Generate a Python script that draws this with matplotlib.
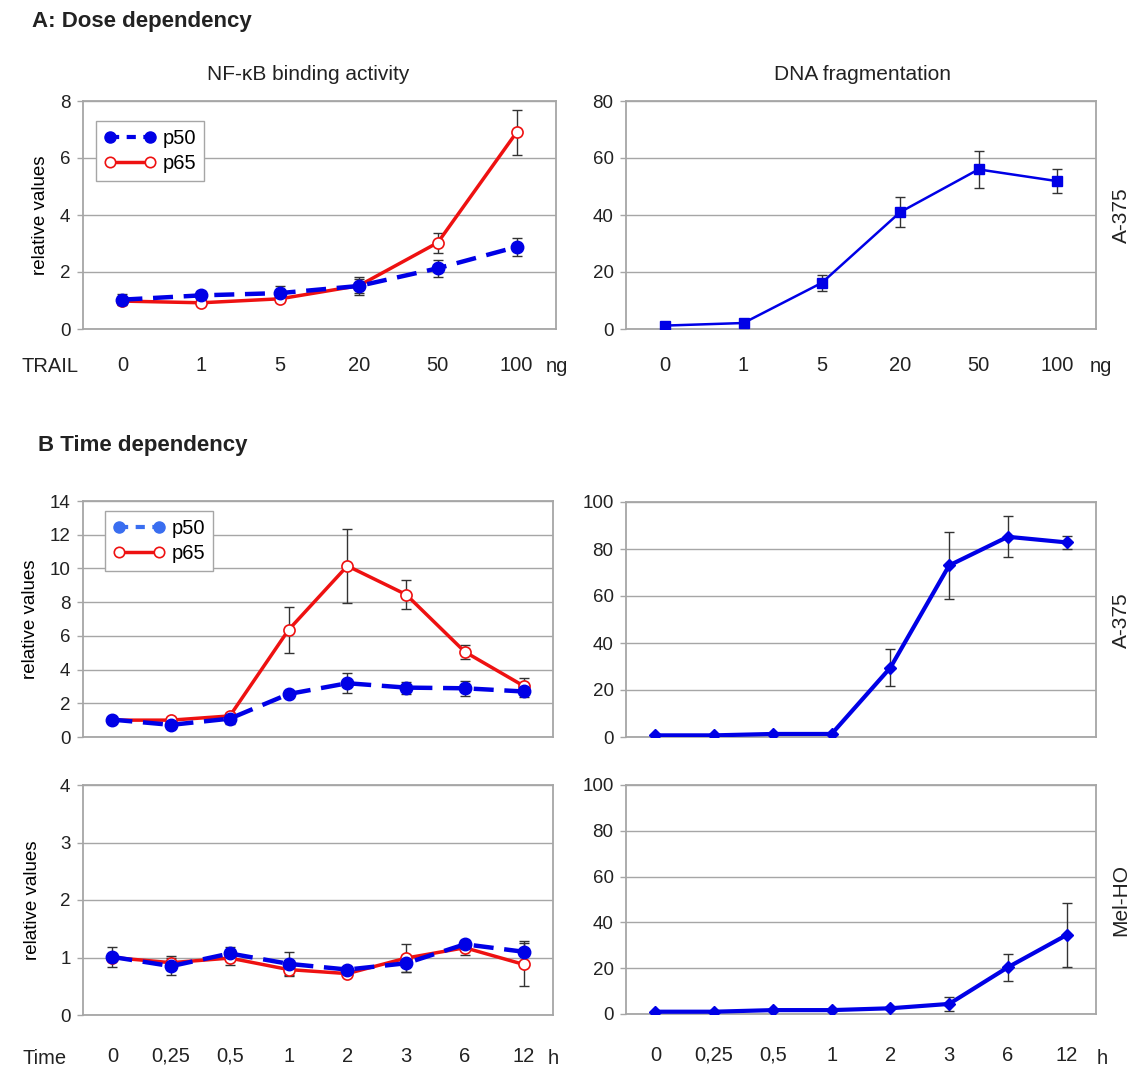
import matplotlib
matplotlib.use('Agg')
import matplotlib.pyplot as plt
from matplotlib.lines import Line2D
import numpy as np

plt.rcParams['font.family'] = ['Liberation Sans', 'DejaVu Sans']

W, H = 1139, 1071

dose_labels = ['0', '1', '5', '20', '50', '100']
time_labels = ['0', '0,25', '0,5', '1', '2', '3', '6', '12']

# A: dose dependency (A-375)
dose_p50 = [1.03, 1.18, 1.26, 1.51, 2.13, 2.88]
dose_p50_err = [0.2, 0.15, 0.25, 0.3, 0.3, 0.32]
dose_p65 = [0.98, 0.92, 1.06, 1.52, 3.03, 6.9]
dose_p65_err = [0.1, 0.05, 0.1, 0.25, 0.35, 0.78]
dose_dna = [1.2, 2.1, 16.2, 41.0, 56.0, 51.9]
dose_dna_err = [0, 0, 2.7, 5.2, 6.6, 4.1]

# B: time dependency, A-375
a375_p50 = [1.03, 0.72, 1.09, 2.55, 3.19, 2.93, 2.89, 2.7]
a375_p50_err = [0.1, 0.1, 0.3, 0.15, 0.6, 0.35, 0.45, 0.35]
a375_p65 = [1.0, 1.0, 1.25, 6.36, 10.15, 8.45, 5.05, 3.03]
a375_p65_err = [0, 0, 0.15, 1.35, 2.2, 0.85, 0.4, 0.45]
a375_dna = [0.7, 0.7, 1.3, 1.3, 29.5, 73.0, 85.2, 82.8]
a375_dna_err = [0, 0, 0, 0, 8.0, 14.2, 8.7, 2.8]

# B: time dependency, Mel-HO
melho_p50 = [1.01, 0.85, 1.07, 0.89, 0.79, 0.9, 1.23, 1.1]
melho_p50_err = [0.17, 0.15, 0.12, 0.2, 0.05, 0.15, 0.08, 0.18]
melho_p65 = [1.0, 0.91, 0.99, 0.79, 0.72, 0.99, 1.17, 0.88]
melho_p65_err = [0.05, 0.12, 0.12, 0.12, 0.05, 0.25, 0.12, 0.38]
melho_dna = [1.0, 1.0, 1.7, 1.7, 2.5, 4.4, 20.4, 34.5]
melho_dna_err = [0, 0, 0, 0, 0, 3.0, 6.0, 14.0]

blue = '#0000e6'
red = '#ee1111'
gray = '#a6a6a6'
ecol = '#333333'
dash = (0, (4.5, 2.4))

fig = plt.figure(figsize=(W / 100, H / 100), dpi=100)


def panel(l, t, r, b):
    return fig.add_axes([l / W, 1 - b / H, (r - l) / W, (b - t) / H])


def style(ax, ymax, ystep, labels, pad=None):
    n = len(labels)
    ax.set_xlim(-0.5, n - 0.5)
    ax.set_ylim(0, ymax)
    ax.set_yticks(np.arange(0, ymax + ystep / 2, ystep))
    ax.grid(axis='y', color=gray, lw=1)
    ax.set_axisbelow(True)
    for s in ax.spines.values():
        s.set_color(gray)
        s.set_linewidth(1.3)
    ax.tick_params(axis='y', length=4, width=1, color=gray, labelsize=13.5,
                   pad=5, labelcolor='#222222')
    ax.set_xticks(range(n))
    if pad is None:
        ax.set_xticklabels([])
        ax.tick_params(axis='x', length=0)
    else:
        ax.set_xticklabels(labels)
        ax.tick_params(axis='x', length=0, labelsize=14.5, pad=pad,
                       labelcolor='#222222')


def nfkb(ax, p50, p50e, p65, p65e):
    x = np.arange(len(p50))
    ax.errorbar(x, p65, yerr=p65e, fmt='none', ecolor=ecol, elinewidth=1,
                capsize=3.5, capthick=1, zorder=3)
    ax.errorbar(x, p50, yerr=p50e, fmt='none', ecolor=ecol, elinewidth=1,
                capsize=3.5, capthick=1, zorder=3)
    ax.plot(x, p65, color=red, lw=2.5, marker='o', ms=8, mfc='white',
            mec=red, mew=1.2, zorder=4)
    ax.plot(x, p50, color=blue, lw=3.2, ls=dash, marker='o', ms=9,
            mfc=blue, mec=blue, zorder=5)


def dna(ax, vals, err, marker, ms, lw):
    x = np.arange(len(vals))
    ax.errorbar(x, vals, yerr=err, fmt='none', ecolor=ecol, elinewidth=1,
                capsize=3.5, capthick=1, zorder=3)
    ax.plot(x, vals, color=blue, lw=lw, marker=marker, ms=ms, mfc=blue,
            mec=blue, zorder=4)


def add_legend(ax, anchor, p50_color):
    handles = [
        Line2D([], [], color=p50_color, lw=3, ls=(0, (2.2, 1.8)), marker='o',
               ms=8, mfc=p50_color, mec=p50_color),
        Line2D([], [], color=red, lw=2.5, marker='o', ms=7.5, mfc='white',
               mec=red, mew=1.2),
    ]
    leg = ax.legend(handles, ['p50', 'p65'], loc='upper left',
                    bbox_to_anchor=anchor, borderaxespad=0, numpoints=2,
                    handlelength=2.6, handletextpad=0.3, borderpad=0.4,
                    labelspacing=0.3, fontsize=14.5, fancybox=False,
                    framealpha=1)
    leg.get_frame().set_edgecolor(gray)
    leg.get_frame().set_linewidth(1)


# A: dose dependency
ax1 = panel(83, 101, 556, 329)
style(ax1, 8, 2, dose_labels, pad=19.5)
nfkb(ax1, dose_p50, dose_p50_err, dose_p65, dose_p65_err)
add_legend(ax1, (0.027, 0.912), blue)
ax1.set_ylabel('relative values', fontsize=13.5, labelpad=8)

ax2 = panel(626, 101, 1096, 329)
style(ax2, 80, 20, dose_labels, pad=19.5)
dna(ax2, dose_dna, dose_dna_err, 's', 7.5, 1.8)

# B: time dependency, A-375
ax3 = panel(83, 501, 553, 737)
style(ax3, 14, 2, time_labels)
nfkb(ax3, a375_p50, a375_p50_err, a375_p65, a375_p65_err)
add_legend(ax3, (0.047, 0.958), '#3a6ef0')
ax3.set_ylabel('relative values', fontsize=13.5, labelpad=8)

ax4 = panel(626, 502, 1096, 737)
style(ax4, 100, 20, time_labels)
dna(ax4, a375_dna, a375_dna_err, 'D', 6.5, 3)

# B: time dependency, Mel-HO
ax5 = panel(83, 785, 553, 1015)
style(ax5, 4, 1, time_labels, pad=23)
nfkb(ax5, melho_p50, melho_p50_err, melho_p65, melho_p65_err)
ax5.set_ylabel('relative values', fontsize=13.5, labelpad=14)

ax6 = panel(626, 785, 1096, 1014)
style(ax6, 100, 20, time_labels, pad=23)
dna(ax6, melho_dna, melho_dna_err, 'D', 6.5, 3)


def ftext(x, y, s, **kw):
    fig.text(x / W, 1 - y / H, s, va='center', color='#222222', **kw)


ftext(32, 21, 'A: Dose dependency', fontsize=16, fontweight='bold', ha='left')
ftext(38, 445, 'B Time dependency', fontsize=16, fontweight='bold', ha='left')
ftext(308, 75, 'NF-\u03baB binding activity', fontsize=15, ha='center')
ftext(863, 75, 'DNA fragmentation', fontsize=15, ha='center')

ftext(50, 366, 'TRAIL', fontsize=14.5, ha='center')
ftext(557, 366, 'ng', fontsize=14.5, ha='center')
ftext(1101, 366, 'ng', fontsize=14.5, ha='center')
ftext(45, 1058, 'Time', fontsize=14.5, ha='center')
ftext(553, 1058, 'h', fontsize=14.5, ha='center')
ftext(1102, 1058, 'h', fontsize=14.5, ha='center')

ftext(1121, 215, 'A-375', fontsize=15, ha='center', rotation=90)
ftext(1121, 620, 'A-375', fontsize=15, ha='center', rotation=90)
ftext(1121, 900, 'Mel-HO', fontsize=15, ha='center', rotation=90)

fig.savefig('out.png', dpi=100, facecolor='white')
